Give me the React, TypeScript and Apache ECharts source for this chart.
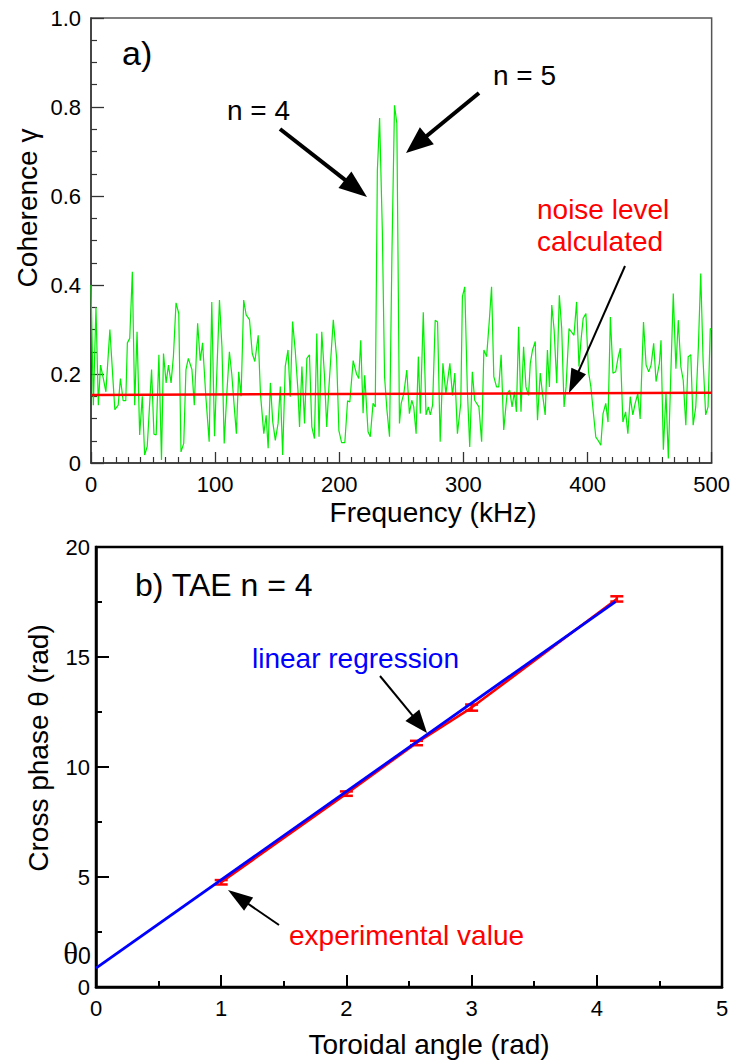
import React, { useEffect, useRef } from "react";
import * as echarts from "echarts";

// ---------- Panel a) data ----------
const FREQ_KHZ = [
  0, 1.9, 4.0, 5.9, 7.7, 9.9, 12.0, 15.2, 19.2, 21.9, 23.7, 25.9, 28.0, 29.3, 31.2, 33.3, 35.2, 37.1, 39.2, 41.3,
  43.2, 45.3, 48.8, 50.7, 52.5, 54.7, 56.8, 58.4, 60.5, 62.4, 64.5, 66.4, 68.5, 70.7, 72.5, 74.7, 76.5, 78.4, 81.3, 83.2,
  85.9, 88.0, 89.9, 92.5, 95.2, 97.3, 99.5, 103.5, 105.5, 107.3, 109.5, 111.5, 113.4, 115.3, 117.1, 119.0, 120.9, 123.0, 125.0, 127.7,
  129.9, 132.0, 134.7, 136.5, 139.2, 141.1, 142.7, 144.5, 146.4, 148.5, 150.7, 152.5, 154.4, 156.5, 158.7, 160.5, 162.4, 164.5, 166.7, 168.0,
  169.9, 172.0, 173.9, 176.0, 177.9, 180.0, 181.9, 183.7, 185.9, 188.0, 189.9, 191.7, 195.2, 197.9, 199.7, 201.9, 204.5, 206.7, 208.5, 211.2,
  213.9, 215.7, 217.3, 219.2, 220.5, 223.2, 225.0, 227.2, 229.0, 230.7, 232.5, 234.7, 236.5, 238.4, 240.5, 242.4, 244.5, 246.4, 248.5, 249.9,
  252.0, 254.4, 256.5, 258.4, 260.0, 261.9, 263.7, 265.3, 267.7, 269.9, 271.7, 273.3, 275.2, 277.3, 279.2, 281.3, 283.5, 285.9, 289.1, 291.2,
  293.1, 295.2, 297.9, 299.2, 301.1, 303.2, 305.1, 307.2, 309.1, 312.5, 314.7, 316.5, 318.7, 320.8, 322.7, 324.5, 326.7, 328.5, 330.4, 332.5,
  335.2, 337.3, 339.2, 341.1, 342.7, 344.5, 346.4, 348.5, 350.4, 352.5, 353.9, 355.7, 357.9, 359.7, 361.9, 363.7, 365.9, 367.7, 369.3, 371.2,
  373.1, 375.2, 377.3, 379.2, 381.1, 382.7, 385.1, 386.9, 389.1, 391.2, 393.1, 394.9, 396.5, 398.7, 400.8, 402.7, 404.5, 406.7, 408.5, 410.7,
  412.5, 414.7, 416.5, 418.4, 420.5, 422.7, 424.5, 426.4, 428.5, 430.7, 432.5, 434.4, 436.5, 438.4, 440.5, 442.4, 445.1, 447.2, 449.3, 451.2,
  453.3, 455.2, 457.9, 459.2, 461.1, 463.2, 465.1, 467.2, 469.1, 471.2, 473.1, 475.2, 477.1, 479.2, 481.1, 483.2, 485.1, 487.2, 489.3, 491.2,
  493.1, 495.2, 497.1, 498.9, 500,
];
const COHERENCE = [
  0.40, 0.13, 0.35, 0.13, 0.22, 0.19, 0.16, 0.30, 0.12, 0.13, 0.19, 0.14, 0.14, 0.27, 0.28, 0.43, 0.13, 0.295, 0.063, 0.15,
  0.018, 0.037, 0.21, 0.065, 0.063, 0.243, 0.007, 0.246, 0.18, 0.22, 0.18, 0.24, 0.36, 0.336, 0.025, 0.044, 0.21, 0.235, 0.21, 0.13,
  0.314, 0.23, 0.27, 0.15, 0.048, 0.362, 0.06, 0.366, 0.26, 0.044, 0.16, 0.25, 0.20, 0.13, 0.066, 0.205, 0.15, 0.366, 0.333, 0.322,
  0.246, 0.228, 0.287, 0.156, 0.066, 0.107, 0.033, 0.18, 0.093, 0.051, 0.089, 0.172, 0.018, 0.217, 0.254, 0.149, 0.318, 0.254, 0.164, 0.081,
  0.217, 0.089, 0.235, 0.243, 0.081, 0.055, 0.291, 0.059, 0.295, 0.2, 0.081, 0.172, 0.322, 0.235, 0.073, 0.046, 0.046, 0.14, 0.137, 0.23,
  0.2, 0.19, 0.276, 0.112, 0.197, 0.07, 0.059, 0.134, 0.126, 0.658, 0.775, 0.523, 0.194, 0.119, 0.059, 0.464, 0.804, 0.763, 0.089, 0.134,
  0.156, 0.209, 0.111, 0.141, 0.126, 0.066, 0.239, 0.111, 0.339, 0.108, 0.126, 0.108, 0.13, 0.321, 0.317, 0.048, 0.224, 0.156, 0.224, 0.152,
  0.202, 0.066, 0.134, 0.374, 0.396, 0.164, 0.036, 0.205, 0.141, 0.126, 0.048, 0.254, 0.239, 0.317, 0.396, 0.194, 0.171, 0.171, 0.243, 0.074,
  0.156, 0.164, 0.126, 0.16, 0.115, 0.306, 0.115, 0.261, 0.171, 0.152, 0.224, 0.254, 0.273, 0.096, 0.202, 0.156, 0.108, 0.254, 0.171, 0.355,
  0.299, 0.179, 0.377, 0.302, 0.126, 0.171, 0.302, 0.295, 0.287, 0.362, 0.217, 0.28, 0.325, 0.336, 0.205, 0.171, 0.119, 0.058, 0.051, 0.04,
  0.111, 0.134, 0.092, 0.328, 0.202, 0.205, 0.235, 0.258, 0.092, 0.115, 0.066, 0.149, 0.108, 0.134, 0.156, 0.099, 0.317, 0.22, 0.205, 0.22,
  0.269, 0.183, 0.224, 0.276, 0.03, 0.157, 0.01, 0.209, 0.381, 0.212, 0.321, 0.216, 0.186, 0.085, 0.239, 0.243, 0.085, 0.126, 0.261, 0.426,
  0.231, 0.108, 0.126, 0.302, 0.30,
];
const NOISE_FREQ = [0, 500];
const NOISE_LEVEL = [0.153, 0.158];

// ---------- Panel b) data ----------
const TOROIDAL_ANGLE = [1.0, 2.0, 2.56, 3.0, 4.16];
const CROSS_PHASE = [4.76, 8.79, 11.09, 12.7, 17.64];
const PHASE_ERR = [0.1, 0.1, 0.1, 0.14, 0.12];
const REG_ANGLE = [0, 4.15];
const REG_PHASE = [0.86, 17.52];

const TOP_X_TICKS = { min: 0, max: 500, interval: 100 };
const TOP_Y_TICKS = { min: 0, max: 1, interval: 0.2 };
const BOT_X_TICKS = { min: 0, max: 5, interval: 1 };
const BOT_Y_TICKS = { min: 0, max: 20, interval: 5 };

const FONT = "'Liberation Sans', Arial, Helvetica, sans-serif";
const SERIF = "'Liberation Serif', 'Times New Roman', serif";

function txt(
  x: number,
  y: number,
  text: string,
  size: number,
  color: string,
  align = "left",
  rotation = 0,
  family = FONT
) {
  return {
    type: "text",
    x,
    y,
    rotation,
    z: 100,
    style: {
      text,
      x: 0,
      y: 0,
      fill: color,
      fontSize: size,
      fontFamily: family,
      align,
      textAlign: align,
      verticalAlign: "middle",
      textVerticalAlign: "middle",
    },
  };
}

function arrow(x1: number, y1: number, x2: number, y2: number, len: number, width: number, lw: number, color = "#000") {
  const dx = x2 - x1;
  const dy = y2 - y1;
  const L = Math.hypot(dx, dy);
  const ux = dx / L;
  const uy = dy / L;
  const bx = x2 - ux * len;
  const by = y2 - uy * len;
  const px = -uy;
  const py = ux;
  return [
    {
      type: "line",
      z: 100,
      shape: { x1, y1, x2: bx + ux * 3, y2: by + uy * 3 },
      style: { stroke: color, lineWidth: lw },
    },
    {
      type: "polygon",
      z: 100,
      shape: {
        points: [
          [x2, y2],
          [bx + (px * width) / 2, by + (py * width) / 2],
          [bx - (px * width) / 2, by - (py * width) / 2],
        ],
      },
      style: { fill: color },
    },
  ];
}

export default function App() {
  const ref = useRef<HTMLDivElement>(null);

  useEffect(() => {
    document.body.style.margin = "0";
    if (!ref.current) return;
    const chart = echarts.init(ref.current, null, { renderer: "svg" });

    const topAxisColor = "#333";
    const botAxisColor = "#000";

    const option: any = {
      animation: false,
      backgroundColor: "#fff",
      textStyle: { fontFamily: FONT },
      grid: [
        { left: 91, top: 18, width: 625, height: 445, show: true, borderColor: "#555", borderWidth: 1.5, backgroundColor: "transparent" },
        { left: 96, top: 547, width: 626, height: 440, show: true, borderColor: "#000", borderWidth: 2.5, backgroundColor: "transparent" },
      ],
      xAxis: [
        {
          gridIndex: 0,
          type: "value",
          ...TOP_X_TICKS,
          axisLine: { show: true, onZero: false, lineStyle: { color: topAxisColor, width: 1.5 } },
          axisTick: { show: true, inside: true, length: 11, lineStyle: { color: topAxisColor, width: 1.3 } },
          minorTick: { show: true, splitNumber: 10, length: 6, lineStyle: { color: topAxisColor, width: 1.2 } },
          splitLine: { show: false },
          axisLabel: { fontSize: 22, color: "#000", margin: 10, fontFamily: FONT },
        },
        {
          gridIndex: 1,
          type: "value",
          ...BOT_X_TICKS,
          axisLine: { show: true, onZero: false, lineStyle: { color: botAxisColor, width: 2.5 } },
          axisTick: { show: true, inside: true, length: 12, lineStyle: { color: botAxisColor, width: 2 } },
          minorTick: { show: true, splitNumber: 2, length: 6, lineStyle: { color: botAxisColor, width: 2 } },
          splitLine: { show: false },
          axisLabel: { fontSize: 22, color: "#000", margin: 10, fontFamily: FONT },
        },
      ],
      yAxis: [
        {
          gridIndex: 0,
          type: "value",
          ...TOP_Y_TICKS,
          axisLine: { show: true, onZero: false, lineStyle: { color: topAxisColor, width: 1.5 } },
          axisTick: { show: true, inside: true, length: 13, lineStyle: { color: topAxisColor, width: 1.3 } },
          minorTick: { show: true, splitNumber: 4, length: 6, lineStyle: { color: topAxisColor, width: 1.2 } },
          splitLine: { show: false },
          axisLabel: {
            fontSize: 22,
            color: "#000",
            margin: 10,
            fontFamily: FONT,
            formatter: (v: number) => (v === 0 ? "0" : v.toFixed(1)),
          },
        },
        {
          gridIndex: 1,
          type: "value",
          ...BOT_Y_TICKS,
          axisLine: { show: true, onZero: false, lineStyle: { color: botAxisColor, width: 2.5 } },
          axisTick: { show: true, inside: true, length: 13, lineStyle: { color: botAxisColor, width: 2 } },
          minorTick: { show: true, splitNumber: 2, length: 6, lineStyle: { color: botAxisColor, width: 2 } },
          splitLine: { show: false },
          axisLabel: { fontSize: 22, color: "#000", margin: 6, fontFamily: FONT },
        },
      ],
      series: [
        {
          name: "coherence",
          type: "line",
          xAxisIndex: 0,
          yAxisIndex: 0,
          data: FREQ_KHZ.map((f, i) => [f, COHERENCE[i]]),
          symbol: "none",
          lineStyle: { color: "#00ee00", width: 1.2 },
          z: 2,
        },
        {
          name: "noise level",
          type: "line",
          xAxisIndex: 0,
          yAxisIndex: 0,
          data: NOISE_FREQ.map((f, i) => [f, NOISE_LEVEL[i]]),
          symbol: "none",
          lineStyle: { color: "#ff0000", width: 2.5 },
          z: 3,
        },
        {
          name: "experimental",
          type: "line",
          xAxisIndex: 1,
          yAxisIndex: 1,
          data: TOROIDAL_ANGLE.map((a, i) => [a, CROSS_PHASE[i]]),
          symbol: "none",
          lineStyle: { color: "#ff0000", width: 2.5 },
          z: 2,
        },
        {
          name: "error bars",
          type: "custom",
          xAxisIndex: 1,
          yAxisIndex: 1,
          data: TOROIDAL_ANGLE.map((a, i) => [a, CROSS_PHASE[i], PHASE_ERR[i]]),
          encode: { x: 0, y: 1 },
          z: 3,
          renderItem: (params: any, api: any) => {
            const x = api.value(0);
            const y = api.value(1);
            const e = api.value(2);
            const top = api.coord([x, y + e]);
            const bot = api.coord([x, y - e]);
            const hw = 6.5;
            const st = { stroke: "#ff0000", lineWidth: 2.5 };
            return {
              type: "group",
              children: [
                { type: "line", shape: { x1: top[0], y1: top[1], x2: bot[0], y2: bot[1] }, style: st },
                { type: "line", shape: { x1: top[0] - hw, y1: top[1], x2: top[0] + hw, y2: top[1] }, style: st },
                { type: "line", shape: { x1: bot[0] - hw, y1: bot[1], x2: bot[0] + hw, y2: bot[1] }, style: st },
              ],
            };
          },
        },
        {
          name: "linear regression",
          type: "line",
          xAxisIndex: 1,
          yAxisIndex: 1,
          data: REG_ANGLE.map((a, i) => [a, REG_PHASE[i]]),
          symbol: "none",
          lineStyle: { color: "#0000ff", width: 2.8 },
          z: 4,
        },
      ],
      graphic: [
        // axis titles
        txt(27, 208, "Coherence γ", 28, "#000", "center", Math.PI / 2),
        txt(433, 512, "Frequency (kHz)", 28, "#000", "center"),
        txt(38, 748, "Cross phase θ (rad)", 28, "#000", "center", Math.PI / 2),
        txt(429, 1044, "Toroidal angle (rad)", 28, "#000", "center"),
        // panel a annotations
        txt(122, 53, "a)", 34, "#000"),
        txt(227, 110, "n = 4", 28, "#000"),
        txt(493, 75, "n = 5", 28, "#000"),
        txt(537, 209, "noise level", 28, "#ff0000"),
        txt(537, 241, "calculated", 28, "#ff0000"),
        ...arrow(280, 129, 367, 197, 28, 21, 4),
        ...arrow(479, 93, 406, 153, 27, 22, 4),
        ...arrow(625, 266, 569, 393, 24, 16, 2),
        // panel b annotations
        txt(135, 585, "b) TAE n = 4", 32, "#000"),
        txt(252, 658, "linear regression", 28, "#0000ff"),
        txt(289, 935, "experimental value", 28, "#ff0000"),
        ...arrow(380, 676, 427, 733, 23, 18, 2),
        ...arrow(279, 925, 228, 890, 25, 16, 2),
        // intercept label
        txt(78, 953, "θ", 31, "#000", "right", 0, SERIF),
        txt(78, 956, "0", 23, "#000", "left"),
      ],
    };

    chart.setOption(option);
    return () => chart.dispose();
  }, []);

  return <div ref={ref} style={{ width: 733, height: 1064 }} />;
}
